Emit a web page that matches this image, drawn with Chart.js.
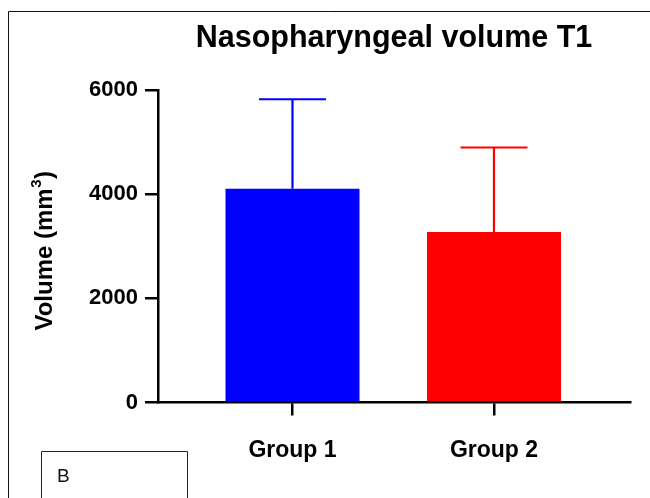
<!DOCTYPE html>
<html>
<head>
<meta charset="utf-8">
<script src="https://cdn.jsdelivr.net/npm/chart.js@4"></script>
<style>
  html, body { margin: 0; padding: 0; background: #fff; }
  #wrap { width: 650px; height: 498px; position: relative; }
</style>
</head>
<body>
<div id="wrap"><canvas id="c" width="650" height="498"></canvas></div>
<script>
// ---- data ----
const categories = ['Group 1', 'Group 2'];
const categoryPositions = [1, 2];
const meanValues = [4106, 3274];
const sdValues = [1718, 1624];
const barColors = ['#0000FF', '#FF0000'];
const yTickValues = [0, 2000, 4000, 6000];
const yTickLabels = ['0', '2000', '4000', '6000'];
const chartTitle = 'Nasopharyngeal volume T1';
const yTitleMain = 'Volume (mm';
const yTitleSup = '3';
const yTitleEnd = ')';
const panelLabel = 'B';

const FONT = '"Liberation Sans", Arial, Helvetica, sans-serif';
const xLabelShift = [-9, 1];

const decorPlugin = {
  id: 'decor',
  beforeDraw(chart) {
    const ctx = chart.ctx;
    ctx.save();
    ctx.fillStyle = '#fff';
    ctx.fillRect(0, 0, chart.width, chart.height);
    // outer frame
    ctx.strokeStyle = '#111';
    ctx.lineWidth = 1;
    ctx.beginPath();
    ctx.moveTo(8.5, chart.height + 2);
    ctx.lineTo(8.5, 11.5);
    ctx.lineTo(chart.width + 2, 11.5);
    ctx.stroke();
    // panel label box
    ctx.strokeStyle = '#222';
    ctx.beginPath();
    ctx.moveTo(41.5, chart.height + 2);
    ctx.lineTo(41.5, 451.5);
    ctx.lineTo(187.5, 451.5);
    ctx.lineTo(187.5, chart.height + 2);
    ctx.stroke();
    ctx.fillStyle = '#111';
    ctx.font = '19px ' + FONT;
    ctx.textBaseline = 'alphabetic';
    ctx.textAlign = 'left';
    ctx.fillText(panelLabel, 57, 482);
    ctx.restore();
  },
  afterDraw(chart) {
    const ctx = chart.ctx;
    const y = chart.scales.y;
    // y-axis title with superscript
    ctx.save();
    ctx.translate(52, (y.top + y.bottom) / 2 + 5);
    ctx.rotate(-Math.PI / 2);
    ctx.fillStyle = '#000';
    const mainFont = 'bold 24px ' + FONT;
    const supFont = 'bold 15px ' + FONT;
    ctx.font = mainFont;
    const wA = ctx.measureText(yTitleMain).width;
    const wC = ctx.measureText(yTitleEnd).width;
    ctx.font = supFont;
    const wB = ctx.measureText(yTitleSup).width;
    let x0 = -(wA + wB + wC) / 2;
    ctx.textAlign = 'left';
    ctx.textBaseline = 'alphabetic';
    ctx.font = mainFont;
    ctx.fillText(yTitleMain, x0, 0);
    ctx.font = supFont;
    ctx.fillText(yTitleSup, x0 + wA + 0.5, -11);
    ctx.font = mainFont;
    ctx.fillText(yTitleEnd, x0 + wA + wB + 1, 0);
    ctx.restore();
  },
  afterDatasetsDraw(chart) {
    const ctx = chart.ctx;
    const yScale = chart.scales.y;
    const meta = chart.getDatasetMeta(0);
    ctx.save();
    meta.data.forEach((bar, i) => {
      const topY = yScale.getPixelForValue(meanValues[i] + sdValues[i]);
      const half = bar.width / 4;
      ctx.strokeStyle = barColors[i];
      ctx.lineWidth = 2.2;
      ctx.beginPath();
      ctx.moveTo(bar.x, bar.y);
      ctx.lineTo(bar.x, topY);
      ctx.moveTo(bar.x - half, topY);
      ctx.lineTo(bar.x + half, topY);
      ctx.stroke();
    });
    ctx.restore();
  }
};

new Chart(document.getElementById('c'), {
  type: 'bar',
  data: {
    datasets: [{
      data: categoryPositions.map((x, i) => ({ x: x, y: meanValues[i] })),
      backgroundColor: barColors,
      borderWidth: 0,
      categoryPercentage: 0.665,
      barPercentage: 1.0
    }]
  },
  options: {
    responsive: false,
    animation: false,
    layout: { padding: { left: 0, right: 20, top: 0, bottom: 0 } },
    plugins: {
      legend: { display: false },
      tooltip: { enabled: false },
      title: {
        display: true,
        text: chartTitle,
        fullSize: false,
        color: '#000',
        font: { family: FONT, size: 30.5, weight: 'bold' },
        padding: { top: 20, bottom: 33.5 }
      }
    },
    scales: {
      x: {
        type: 'linear',
        offset: false,
        min: 0.3325,
        max: 2.675,
        afterFit(scale) { scale.height = 95.5; },
        afterBuildTicks(scale) { scale.ticks = categoryPositions.map(v => ({ value: v })); },
        ticks: {
          color: '#000',
          padding: 21,
          labelOffset: (c) => xLabelShift[c.index] || 0,
          font: { family: FONT, size: 23, weight: 'bold' },
          callback: (v) => categories[categoryPositions.indexOf(v)]
        },
        grid: { offset: false, drawOnChartArea: false, drawTicks: true, tickLength: 13, color: '#000', lineWidth: 2.5 },
        border: { display: true, color: '#000', width: 2.5 }
      },
      y: {
        type: 'linear',
        min: 0,
        max: 6000,
        afterFit(scale) { scale.width = 158; },
        afterBuildTicks(scale) { scale.ticks = yTickValues.map(v => ({ value: v })); },
        ticks: {
          color: '#000',
          padding: 7,
          font: { family: FONT, size: 22, weight: 'bold' },
          callback: (v) => yTickLabels[yTickValues.indexOf(v)]
        },
        grid: { drawOnChartArea: false, drawTicks: true, tickLength: 13, color: '#000', lineWidth: 2.5 },
        border: { display: true, color: '#000', width: 2.5 }
      }
    }
  },
  plugins: [decorPlugin]
});
</script>
</body>
</html>
